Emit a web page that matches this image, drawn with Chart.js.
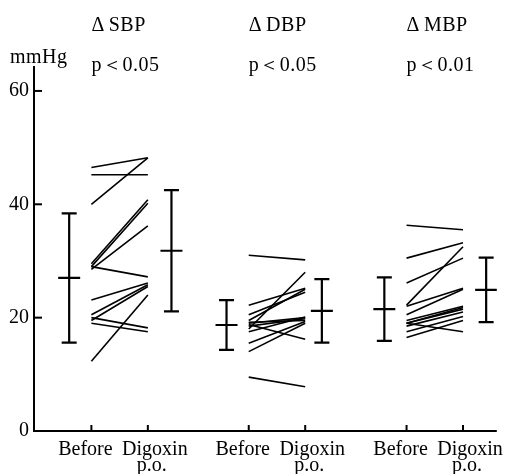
<!DOCTYPE html>
<html>
<head>
<meta charset="utf-8">
<script src="https://cdn.jsdelivr.net/npm/chart.js@4.4.1/dist/chart.umd.min.js"></script>
<style>
  html, body { margin: 0; padding: 0; background: #fff; }
</style>
</head>
<body>
<canvas id="bpChart" width="510" height="474"></canvas>
<script>
// Labels
const groupNames = ['ΔSBP', 'ΔDBP', 'ΔMBP'];
const pLabels = ['p＜0.05', 'p＜0.05', 'p＜0.01'];
const xLabels = ['Before', 'Digoxin'];
const yTicks = [0, 20, 40, 60];

// Individual patients, before -> after digoxin (mmHg)
const sbpBefore = [46.5, 45.2, 40.0, 29.5, 29.0, 28.5, 29.0, 23.1, 20.5, 19.5, 20.0, 19.0, 12.3];
const sbpAfter  = [48.2, 45.2, 48.2, 40.8, 40.2, 36.2, 27.2, 26.1, 25.8, 25.5, 18.2, 17.5, 24.0];
const dbpBefore = [31.0, 22.2, 20.5, 18.0, 19.5, 19.0, 18.5, 19.2, 17.5, 18.8, 15.5, 14.0, 9.5];
const dbpAfter  = [30.2, 25.2, 24.5, 28.0, 25.0, 20.0, 19.8, 19.5, 20.1, 16.2, 19.3, 19.0, 7.8];
const mbpBefore = [36.3, 30.5, 22.2, 26.1, 22.0, 20.5, 19.5, 19.0, 19.0, 18.5, 17.5, 16.5, 19.0];
const mbpAfter  = [35.5, 33.2, 32.5, 30.5, 25.2, 25.0, 22.0, 21.5, 21.8, 21.0, 20.2, 19.5, 17.5];

// Group mean and SD
const meanBefore = [27.0, 18.7, 21.5];
const sdBefore   = [11.4, 4.4, 5.6];
const meanAfter  = [31.8, 21.2, 24.9];
const sdAfter    = [10.7, 5.6, 5.7];

// Layout on a 0..100 horizontal scale
const groupStart = [12.4, 46.4, 80.5];
const pairWidth = 12.2;
const meanBeforeOffset = -4.8;
const meanAfterOffset = [17.3, 15.8, 17.2];

const FONT = '20px "Liberation Serif", "Times New Roman", serif';

const beforeSets = [sbpBefore, dbpBefore, mbpBefore];
const afterSets = [sbpAfter, dbpAfter, mbpAfter];

const datasets = [];

// one line per patient
beforeSets.forEach((before, g) => {
    before.forEach((b, i) => {
        datasets.push({
            data: [{ x: groupStart[g], y: b }, { x: groupStart[g] + pairWidth, y: afterSets[g][i] }],
            borderColor: '#000',
            borderWidth: 1.6,
            pointRadius: 0
        });
    });
});

// mean +- SD bars
function addBar(x, mean, sd) {
    datasets.push({
        data: [{ x: x, y: mean - sd }, { x: x, y: mean + sd }],
        borderColor: '#000',
        borderWidth: 2.2,
        pointStyle: 'line',
        pointRadius: 7.5,
        pointBorderWidth: 2.2,
        pointBorderColor: '#000'
    });
    datasets.push({
        data: [{ x: x, y: mean }],
        showLine: false,
        pointStyle: 'line',
        pointRadius: 11,
        pointBorderWidth: 2.2,
        pointBorderColor: '#000'
    });
}
groupStart.forEach((start, g) => {
    addBar(start + meanBeforeOffset, meanBefore[g], sdBefore[g]);
    addBar(start + meanAfterOffset[g], meanAfter[g], sdAfter[g]);
});

// Axes, ticks and text drawn the way the paper figure has them
const paperAxes = {
    id: 'paperAxes',
    afterDraw(chart) {
        const { ctx, chartArea, scales: { x, y } } = chart;
        ctx.save();
        ctx.strokeStyle = '#000';
        ctx.fillStyle = '#000';
        ctx.lineWidth = 2;

        ctx.beginPath();
        ctx.moveTo(chartArea.left, chartArea.top);
        ctx.lineTo(chartArea.left, chartArea.bottom);
        ctx.lineTo(chartArea.right, chartArea.bottom);
        ctx.stroke();

        ctx.font = FONT;
        ctx.textAlign = 'right';
        ctx.textBaseline = 'middle';
        yTicks.forEach(v => {
            const py = y.getPixelForValue(v);
            if (v > 0) {
                ctx.beginPath();
                ctx.moveTo(chartArea.left, py);
                ctx.lineTo(chartArea.left + 8, py);
                ctx.stroke();
            }
            ctx.fillText(String(v), chartArea.left - 5, py);
        });

        ctx.textAlign = 'left';
        ctx.textBaseline = 'alphabetic';
        ctx.letterSpacing = '0.5px';
        ctx.fillText('mmHg', 10, 63);

        groupStart.forEach((start, g) => {
            const px0 = x.getPixelForValue(start);
            const px1 = x.getPixelForValue(start + pairWidth);
            [px0, px1].forEach(px => {
                ctx.beginPath();
                ctx.moveTo(px, chartArea.bottom);
                ctx.lineTo(px, chartArea.bottom - 6);
                ctx.stroke();
            });

            // delta sign set apart from the abbreviation, as in the print
            ctx.textAlign = 'left';
            ctx.letterSpacing = '0.5px';
            const delta = groupNames[g].charAt(0);
            ctx.fillText(delta, px0, 31);
            ctx.fillText(groupNames[g].slice(1), px0 + ctx.measureText(delta).width + 4, 31);
            ctx.fillText(pLabels[g], px0, 71);

            ctx.letterSpacing = '0px';
            ctx.textAlign = 'center';
            ctx.fillText(xLabels[0], px0 - 6, 455);
            ctx.fillText(xLabels[1], px1 + 7, 455);
            ctx.fillText('p.o.', px1 + 4, 471);
        });
        ctx.restore();
    }
};

new Chart(document.getElementById('bpChart').getContext('2d'), {
    type: 'line',
    data: { datasets: datasets },
    options: {
        responsive: false,
        animation: false,
        layout: { padding: { left: 34, right: 7, top: 66, bottom: 43 } },
        scales: {
            x: { type: 'linear', min: 0, max: 100, display: false },
            y: { type: 'linear', min: 0, max: 64.4, display: false }
        },
        plugins: { legend: { display: false }, tooltip: { enabled: false } }
    },
    plugins: [paperAxes]
});
</script>
</body>
</html>
